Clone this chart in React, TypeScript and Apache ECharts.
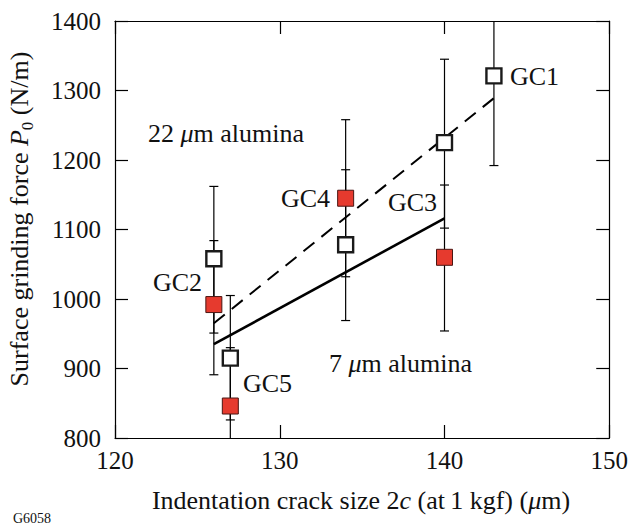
import React, { useEffect, useRef } from 'react';
import * as echarts from 'echarts';

// Indentation crack size 2c (µm) for each glass ceramic
const crack22 = [126, 127, 134, 140, 143];
const crack7 = [126, 127, 134, 140];
// Surface grinding force P0 (N/m) with 22 µm alumina, and its error range
const force22 = [1058, 915, 1078, 1225, 1321];
const low22 = [951, 826, 969, 1102, 1192];
const high22 = [1162, 1005, 1186, 1345, 1450];
// Surface grinding force P0 (N/m) with 7 µm alumina, and its error range
const force7 = [992, 846, 1145, 1060];
const low7 = [891, 762, 1032, 954];
const high7 = [1084, 930, 1258, 1164];
// Linear fits (end points)
const fit22 = [[126, 965], [143, 1289]];
const fit7 = [[126, 935], [140, 1116]];
// Axis ranges
const xRange = { min: 120, max: 150, interval: 10 };
const yRange = { min: 800, max: 1400, interval: 100 };

const FONT = '"Liberation Serif", "Times New Roman", serif';
const INK = '#111';
const TXT = 26;

function textWidth(text: string, size: number, italic = false): number {
  const ctx = document.createElement('canvas').getContext('2d');
  if (!ctx) return text.length * size * 0.5;
  ctx.font = `${italic ? 'italic ' : ''}${size}px "Liberation Serif"`;
  return ctx.measureText(text).width;
}

function yTitle(cx: number, cy: number) {
  const parts = [
    { t: 'Surface grinding force ', s: TXT, i: false, dy: 0 },
    { t: 'P', s: TXT, i: true, dy: 0 },
    { t: '0', s: 17, i: false, dy: 8 },
    { t: ' (N/m)', s: TXT, i: false, dy: 0 },
  ];
  const widths = parts.map((p) => textWidth(p.t, p.s, p.i));
  const total = widths.reduce((a, b) => a + b, 0);
  let x = -total / 2;
  const children = parts.map((p, k) => {
    const el = {
      type: 'text',
      x,
      y: p.dy,
      style: {
        text: p.t,
        font: `${p.i ? 'italic ' : ''}${p.s}px ${FONT}`,
        fill: INK,
        align: 'left',
        verticalAlign: 'middle',
      },
    };
    x += widths[k];
    return el;
  });
  return { type: 'group', x: cx, y: cy, rotation: Math.PI / 2, children };
}

function label(text: string, x: number, y: number, size = TXT, align = 'left') {
  return {
    type: 'text',
    x,
    y,
    style: { text, font: `${size}px ${FONT}`, fill: INK, align, verticalAlign: 'middle' },
  };
}

function richLabel(text: string, x: number, y: number, align = 'left') {
  return {
    type: 'text',
    x,
    y,
    style: {
      text,
      fontFamily: FONT,
      fontSize: TXT,
      fill: INK,
      align,
      verticalAlign: 'middle',
      rich: { i: { fontFamily: FONT, fontSize: TXT, fontStyle: 'italic', fill: INK } },
    },
  };
}

const errorBar = (params: any, api: any) => {
  const x = api.value(0);
  const lo = api.coord([x, api.value(1)]);
  const hi = api.coord([x, api.value(2)]);
  const half = 4.5;
  const st = { stroke: '#000', lineWidth: 1.2 };
  return {
    type: 'group',
    children: [
      { type: 'line', shape: { x1: lo[0], y1: lo[1], x2: hi[0], y2: hi[1] }, style: st },
      { type: 'line', shape: { x1: lo[0] - half, y1: lo[1], x2: lo[0] + half, y2: lo[1] }, style: st },
      { type: 'line', shape: { x1: hi[0] - half, y1: hi[1], x2: hi[0] + half, y2: hi[1] }, style: st },
    ],
  };
};

function axisCommon(showLabels: boolean, margin: number) {
  return {
    type: 'value',
    axisLine: { show: true, onZero: false, lineStyle: { color: '#000', width: 1.2 } },
    axisTick: { show: true, inside: true, length: 13, lineStyle: { color: '#000', width: 1.2 } },
    axisLabel: {
      show: showLabels,
      color: INK,
      fontFamily: FONT,
      fontSize: 25,
      margin,
      showMinLabel: true,
      showMaxLabel: true,
      formatter: (v: number) => String(v),
    },
    splitLine: { show: false },
  };
}

export default function App() {
  const ref = useRef<HTMLDivElement>(null);

  useEffect(() => {
    if (!ref.current) return;
    const chart = echarts.init(ref.current, null, { renderer: 'svg' });

    const pts22 = crack22.map((x, k) => [x, force22[k]]);
    const pts7 = crack7.map((x, k) => [x, force7[k]]);
    const bars22 = crack22.map((x, k) => [x, low22[k], high22[k]]);
    const bars7 = crack7.map((x, k) => [x, low7[k], high7[k]]);

    chart.setOption({
      animation: false,
      backgroundColor: '#fff',
      grid: { left: 115, right: 19, top: 21, bottom: 89, containLabel: false },
      xAxis: [
        { ...axisCommon(true, 10), position: 'bottom', ...xRange },
        { ...axisCommon(false, 10), position: 'top', ...xRange },
      ],
      yAxis: [
        { ...axisCommon(true, 14), position: 'left', ...yRange },
        { ...axisCommon(false, 14), position: 'right', ...yRange },
      ],
      series: [
        {
          type: 'custom',
          clip: true,
          renderItem: errorBar,
          data: bars22,
          encode: { x: 0, y: [1, 2] },
          z: 1,
        },
        {
          type: 'custom',
          clip: true,
          renderItem: errorBar,
          data: bars7,
          encode: { x: 0, y: [1, 2] },
          z: 1,
        },
        {
          type: 'line',
          data: fit22,
          symbol: 'none',
          lineStyle: { color: '#000', width: 2, type: [14, 9] },
          z: 2,
        },
        {
          type: 'line',
          data: fit7,
          symbol: 'none',
          lineStyle: { color: '#000', width: 2.6 },
          z: 2,
        },
        {
          type: 'scatter',
          data: pts22,
          symbol: 'rect',
          symbolSize: 15,
          itemStyle: { color: '#fff', borderColor: '#1a1a1a', borderWidth: 2.4, opacity: 1 },
          z: 3,
        },
        {
          type: 'scatter',
          data: pts7,
          symbol: 'rect',
          symbolSize: 16,
          itemStyle: { color: '#e63a2e', borderColor: '#4a1512', borderWidth: 1, opacity: 1 },
          z: 3,
        },
      ],
      graphic: [
        label('GC1', 510, 76),
        label('GC2', 202, 282, TXT, 'right'),
        label('GC3', 388, 202),
        label('GC4', 330, 198, TXT, 'right'),
        label('GC5', 243, 383),
        richLabel('22 {i|\u03bc}m alumina', 148, 133),
        richLabel('7 {i|\u03bc}m alumina', 329, 363),
        richLabel('Indentation crack size 2{i|c} (at\u20091 kgf) ({i|\u03bc}m)', 361, 500, 'center'),
        label('G6058', 13, 518, 14),
        yTitle(19, 219),
      ],
    });

    return () => chart.dispose();
  }, []);

  return (
    <div
      ref={ref}
      style={{ position: 'fixed', left: 0, top: 0, width: 631, height: 527 }}
    />
  );
}
